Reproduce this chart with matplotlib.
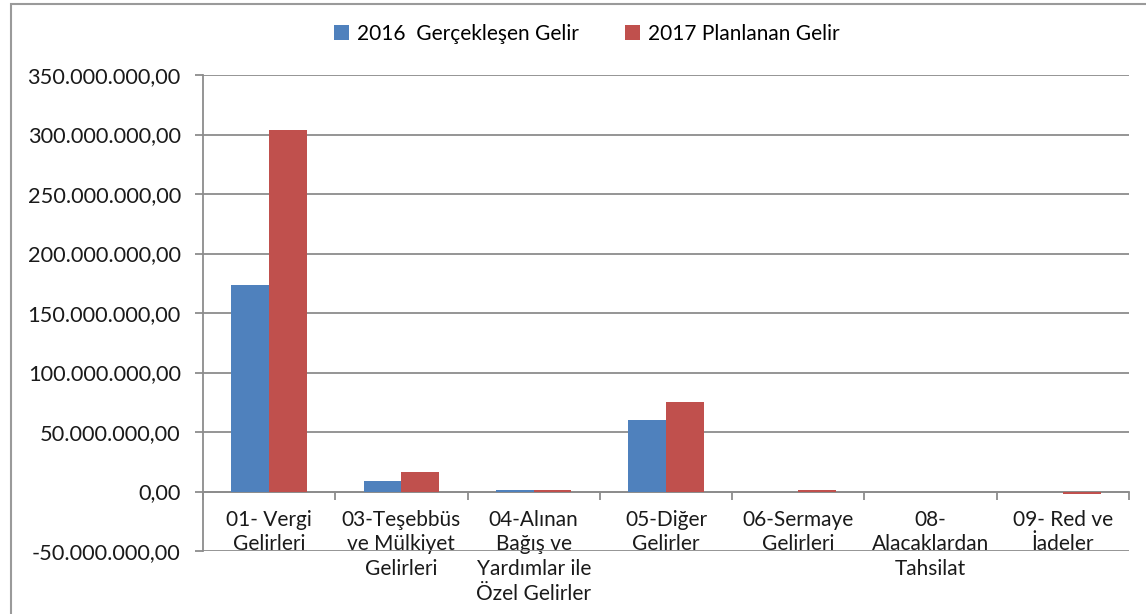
import matplotlib.pyplot as plt
import numpy as np
from matplotlib.patches import Rectangle

plt.rcParams['font.family'] = ['Lato', 'DejaVu Sans']

categories = ['01- Vergi\nGelirleri', '03-Teşebbüs\nve Mülkiyet\nGelirleri',
              '04-Alınan\nBağış ve\nYardımlar ile\nÖzel Gelirler',
              '05-Diğer\nGelirler', '06-Sermaye\nGelirleri',
              '08-\nAlacaklardan\nTahsilat', '09- Red ve\nİadeler']
gelir_2016 = [173500000, 8500000, 1000000, 59800000, 0, 0, 0]
gelir_2017 = [304000000, 16600000, 1000000, 75000000, 1200000, 0, -2000000]
yticks = np.arange(-50000000, 350000001, 50000000)

blue = '#4F81BD'
red = '#C0504D'
grid = '#8C8C8C'


def tr_format(v, pos=None):
    s = '{:,.2f}'.format(v)
    return s.replace(',', 'X').replace('.', ',').replace('X', '.')


fig = plt.figure(figsize=(11.46, 6.14), dpi=100)
ax = fig.add_axes([203 / 1146, 1 - 551 / 614, 926 / 1146, 476 / 614])

# chart border
fig.patches.append(Rectangle((11 / 1146, -0.1), 1.2, 1 - 4 / 614 + 0.1,
                             transform=fig.transFigure, fill=False,
                             edgecolor='#9A9A9A', linewidth=1.5))

x = np.arange(len(categories))
w = 0.285
ax.bar(x - w / 2, gelir_2016, w, color=blue, edgecolor='none',
       label='2016  Gerçekleşen Gelir', zorder=3)
ax.bar(x + w / 2, gelir_2017, w, color=red, edgecolor='none',
       label='2017 Planlanan Gelir', zorder=3)

ax.set_xlim(-0.5, len(categories) - 0.5)
ax.set_ylim(-50000000, 350000000)
ax.set_yticks(yticks)
ax.yaxis.set_major_formatter(plt.FuncFormatter(tr_format))
ax.grid(True, axis='y', color=grid, linewidth=1.3, zorder=0)

ax.spines['top'].set_visible(False)
ax.spines['right'].set_visible(False)
ax.spines['left'].set_color(grid)
ax.spines['left'].set_linewidth(1.3)
ax.spines['bottom'].set_position(('data', 0))
ax.spines['bottom'].set_color(grid)
ax.spines['bottom'].set_linewidth(1.3)

ax.set_xticks(np.arange(-0.5, len(categories), 1.0))
ax.set_xticklabels([])
ax.set_xticks(x, minor=True)
ax.set_xticklabels(categories, minor=True, fontsize=15, color='#1a1a1a',
                   linespacing=1.3)
ax.tick_params(axis='x', which='major', length=6, width=1.3, color=grid)
ax.tick_params(axis='x', which='minor', length=0, pad=13)
ax.tick_params(axis='y', length=6, width=1.3, color=grid, labelsize=15.7,
               labelcolor='#1a1a1a', pad=10)

fig.legend(loc='center', bbox_to_anchor=(587 / 1146, 1 - 34 / 614),
           ncol=2, frameon=False, fontsize=15, handlelength=0.7,
           handleheight=0.7, columnspacing=2.2, handletextpad=0.4)

fig.savefig('out.png', dpi=100)
plt.close(fig)
